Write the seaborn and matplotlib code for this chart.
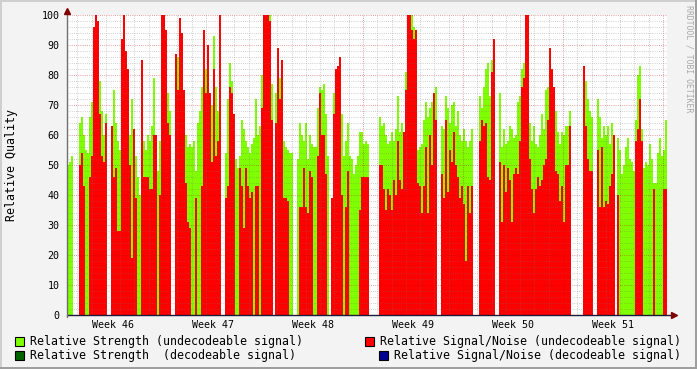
import numpy as np
import pandas as pd
import matplotlib
matplotlib.use("Agg")
import matplotlib.pyplot as plt
import seaborn as sns
from matplotlib.patches import Rectangle

N = None
# Relative Strength (undecodeable signal), one value per sample (None = no data)
strength = [
    50, 51, 53, N, N, N, 64, 66, 60, 55,
    54, 66, 71, N, N, N, 78, 68, 60, 67,
    N, N, N, 75, 64, 58, 55, N, N, N,
    N, 60, 72, 58, 53, 46, 40, 60, 58, 55,
    60, 58, 63, 79, 55, 48, 58, 95, N, N,
    74, 68, N, N, 79, 86, N, N, 62, 60,
    56, 57, 56, 58, 48, 64, 68, 76, 90, 82,
    78, 73, 70, 93, 76, 68, 99, N, N, 54,
    72, 84, 78, 55, 52, 49, 53, 65, 62, 58,
    56, 54, 57, 59, 72, 60, 63, 80, N, 100,
    N, 100, 77, N, 74, 70, 79, 75, 58, 56,
    55, 54, 54, N, N, 52, 64, 60, 58, 64,
    52, 60, 57, 56, 56, 69, 76, 75, 77, 67,
    53, N, N, 74, N, N, 74, 67, 53, 58,
    64, 53, 52, 47, 50, 53, 61, 61, 57, 58,
    57, N, N, N, N, N, 66, 63, 64, 60,
    57, 58, 61, 58, 62, 73, 61, 64, 61, 81,
    N, 100, 100, 96, N, 55, 56, 57, 65, 71,
    66, 69, 71, 54, 76, N, N, 63, 62, 73,
    69, 64, 70, 71, 63, 68, 60, 58, 62, 58,
    56, 58, 62, N, N, N, 73, 69, 76, 82,
    84, 73, 85, N, N, N, 74, 56, 62, 57,
    58, 63, 62, 59, 60, 71, 73, 82, 84, N,
    N, 64, 58, 63, 57, 56, 60, 67, 62, 75,
    76, 72, 79, 68, 68, 61, 57, 61, 60, 63,
    63, 68, N, N, N, N, N, N, N, 78,
    72, 68, 66, N, N, 72, 66, 59, 63, 60,
    63, 57, 64, 58, N, 59, 55, 47, 50, 56,
    59, 52, 51, 48, 65, 80, 83, 62, 49, 51,
    50, 57, 52, 44, 44, 54, 59, 53, 55, 65,
]
# Relative Signal/Noise (undecodeable signal)
snr = [
    N, N, N, N, N, N, 50, 54, 43, N,
    N, 46, 53, 96, 100, 98, 67, 53, 51, 64,
    N, N, 63, 46, 49, 28, 28, 92, 100, 88,
    82, 50, 19, 62, 39, N, N, 85, 46, 46,
    46, 42, 42, 60, 60, N, 40, 100, 100, 95,
    64, 60, N, N, 87, 75, 99, 94, 75, 44,
    31, 29, N, N, 39, N, N, 43, 95, 74,
    90, 74, 51, 82, 53, 58, 100, N, N, 39,
    43, 76, 74, 67, N, N, 49, 43, 29, 49,
    43, 39, 41, N, 43, 43, N, 69, 100, 100,
    100, 98, 65, N, 64, 89, 72, 85, 39, 39,
    38, N, N, N, N, N, 36, 36, 49, 36,
    34, 48, 46, N, N, 53, 74, 60, 60, 47,
    N, N, 39, 67, 82, 83, 86, 40, N, 36,
    48, N, N, N, N, N, 35, 46, 46, 46,
    46, N, N, N, N, N, 50, 50, 42, 35,
    42, 40, 35, 45, 40, 58, 45, 42, 61, 75,
    100, 100, 95, 92, 95, 44, 43, 34, 43, 56,
    34, 60, 50, 74, 65, N, N, 47, 39, 65,
    41, 55, 51, 61, 50, 46, 39, 43, 37, 18,
    43, 34, 43, N, N, N, 58, 65, 63, 64,
    46, 45, 81, 92, N, N, 51, 31, 50, 41,
    49, 45, 31, 47, 49, 47, 58, 76, 79, 100,
    100, 52, 42, 34, 42, 46, 43, 45, 50, 52,
    65, 89, 82, 76, 48, 47, 38, 43, 31, 50,
    50, 63, N, N, N, N, N, N, 83, 63,
    52, 48, 48, N, N, 55, 36, 56, 36, 38,
    37, 43, 47, 60, N, 40, N, N, N, N,
    N, N, N, N, 58, 62, 72, 58, N, N,
    N, N, N, 42, N, N, N, N, 42, 42,
]
week_labels = ["Week 46", "Week 47", "Week 48", "Week 49", "Week 50", "Week 51"]
legend_labels = [
    "Relative Strength (undecodeable signal)",
    "Relative Signal/Noise (undecodeable signal)",
    "Relative Strength  (decodeable signal)",
    "Relative Signal/Noise (decodeable signal)",
]
# sampling: days since start of week 46
sample_start_day = 0.35
sample_step_day = 0.14
x_range_days = (0.28, 42.28)

GREEN = "#7FFF00"
RED = "#FF0000"
DKGREEN = "#006400"
NAVY = "#000090"

sns.set_theme(style="white")
plt.rcParams["font.family"] = ["DejaVu Sans Mono"]

W, H = 697, 369
fig = plt.figure(figsize=(W / 100, H / 100), dpi=100, facecolor="#F3F3F3")
ax = fig.add_axes([67 / W, 54 / H, 600 / W, 300 / H])
ax.set_facecolor("white")

day = sample_start_day + sample_step_day * np.arange(len(strength))
df = pd.DataFrame({
    "day": np.round(day, 4),
    "strength": np.array(strength, dtype=float),
    "snr": np.array(snr, dtype=float),
})

sns.barplot(data=df.dropna(subset=["strength"]), x="day", y="strength",
            native_scale=True, width=1.0, color=GREEN, saturation=1,
            errorbar=None, linewidth=0, ax=ax)
sns.barplot(data=df.dropna(subset=["snr"]), x="day", y="snr",
            native_scale=True, width=1.0, color=RED, saturation=1,
            errorbar=None, linewidth=0, ax=ax)
for p in ax.patches:
    p.set_antialiased(False)

ax.set_xlim(*x_range_days)
ax.set_ylim(0, 100)
ax.set_xlabel("")
ax.set_ylabel("")

# grid
ax.set_xticks(np.arange(7, 43, 7))
ax.set_xticks(np.arange(1, 43, 1), minor=True)
ax.set_yticks(np.arange(0, 101, 10))
ax.set_yticks(np.arange(0, 101, 2), minor=True)
ax.grid(True, which="minor", color=(0.45, 0.45, 0.45), alpha=0.45,
        linestyle=(0, (1, 1.6)), linewidth=0.6)
ax.grid(True, which="major", color=(0.75, 0.0, 0.0), alpha=0.5,
        linestyle=(0, (1, 1.6)), linewidth=0.6)
ax.set_axisbelow(False)

ax.tick_params(axis="x", which="major", length=3, width=0.7, color="#D06060",
               labelbottom=False, direction="out")
ax.tick_params(axis="x", which="minor", length=0)
ax.tick_params(axis="y", which="major", length=0, labelsize=7.2, pad=5.5, labelcolor="black")
ax.tick_params(axis="y", which="minor", length=0)

for s in ["top", "right", "left", "bottom"]:
    ax.spines[s].set_visible(False)

# axes with arrows
ax.plot([0, 1.012], [0, 0], transform=ax.transAxes, color="#1a1a3a", lw=1.0, clip_on=False, zorder=5)
ax.plot([0, 0], [-0.008, 1.0], transform=ax.transAxes, color="#707070", lw=1.0, clip_on=False, zorder=5)
ax.plot([1.012], [0], transform=ax.transAxes, marker=">", color="#800000", ms=4.5, clip_on=False, zorder=6)
ax.plot([0], [1.013], transform=ax.transAxes, marker="^", color="#800000", ms=4.5, clip_on=False, zorder=6)

# week labels
for k, lab in enumerate(week_labels):
    ax.text(7 * k + 3.5, -0.032, lab, transform=ax.get_xaxis_transform(),
            ha="center", va="center", fontsize=7.2, color="black")

fig.text(12 / W, 1 - 165 / H, "Relative Quality", rotation=90, ha="center", va="center",
         fontsize=8.4, color="black")
fig.text(688.5 / W, 1 - 59 / H, "RRDTOOL / TOBI OETIKER", rotation=270, ha="center",
         va="center", fontsize=5.9, color="#A8A8A8")

# legend
legend_items = [
    (15, 341, GREEN, legend_labels[0]),
    (365, 341, RED, legend_labels[1]),
    (15, 355, DKGREEN, legend_labels[2]),
    (379, 355, NAVY, legend_labels[3]),
]
for bx, cy, col, lab in legend_items:
    fig.add_artist(Rectangle((bx / W, 1 - (cy + 4.5) / H), 9 / W, 9 / H,
                             transform=fig.transFigure, facecolor=col,
                             edgecolor="black", linewidth=0.8))
    fig.text((bx + 15) / W, 1 - cy / H, lab, ha="left", va="center", fontsize=8.4, color="black")

# frame
fig.add_artist(Rectangle((0, 1 - 2 / H), 1, 2 / H, transform=fig.transFigure, facecolor="#CFCFCF", lw=0))
fig.add_artist(Rectangle((0, 0), 2 / W, 1, transform=fig.transFigure, facecolor="#CFCFCF", lw=0))
fig.add_artist(Rectangle((1 - 2 / W, 0), 2 / W, 1, transform=fig.transFigure, facecolor="#9E9E9E", lw=0))
fig.add_artist(Rectangle((0, 0), 1, 2 / H, transform=fig.transFigure, facecolor="#9E9E9E", lw=0))

fig.savefig("out.png", dpi=100, facecolor=fig.get_facecolor())
